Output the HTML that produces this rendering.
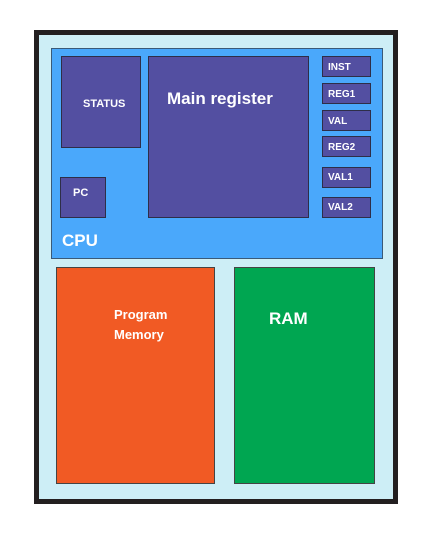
<!DOCTYPE html>
<html><head><style>
body{margin:0;width:433px;height:536px;background:#fff;position:relative;overflow:hidden;font-family:"Liberation Sans",sans-serif;font-weight:bold;color:#fff}
div{position:absolute;box-sizing:border-box}
.r{background:#534fa1;border:1px solid #2e2e48}
.s{font-size:10px}
</style></head><body>
<div style="left:34px;top:30px;width:364px;height:474px;background:#cdeef6;border:5px solid #231f20"></div>
<div style="left:51px;top:48px;width:332px;height:211px;background:#4aa8fb;border:1px solid #3a5a78"></div>
<div class="r" style="left:61px;top:56px;width:80px;height:92px"></div>
<div style="left:83px;top:98px;font-size:11px">STATUS</div>
<div class="r" style="left:148px;top:56px;width:161px;height:162px"></div>
<div style="left:167px;top:89px;font-size:17px">Main register</div>
<div class="r" style="left:60px;top:177px;width:46px;height:41px"></div>
<div style="left:73px;top:187px;font-size:11px">PC</div>
<div class="r" style="left:322px;top:56px;width:49px;height:21px"></div>
<div class="s" style="left:328px;top:62px">INST</div>
<div class="r" style="left:322px;top:83px;width:49px;height:21px"></div>
<div class="s" style="left:328px;top:89px">REG1</div>
<div class="r" style="left:322px;top:110px;width:49px;height:21px"></div>
<div class="s" style="left:328px;top:116px">VAL</div>
<div class="r" style="left:322px;top:136px;width:49px;height:21px"></div>
<div class="s" style="left:328px;top:142px">REG2</div>
<div class="r" style="left:322px;top:167px;width:49px;height:21px"></div>
<div class="s" style="left:328px;top:172px">VAL1</div>
<div class="r" style="left:322px;top:197px;width:49px;height:21px"></div>
<div class="s" style="left:328px;top:202px">VAL2</div>
<div style="left:62px;top:231px;font-size:17px">CPU</div>
<div style="left:56px;top:267px;width:159px;height:217px;background:#f15a24;border:1px solid #444"></div>
<div style="left:114px;top:305px;font-size:13px;line-height:20px">Program<br>Memory</div>
<div style="left:234px;top:267px;width:141px;height:217px;background:#00a651;border:1px solid #444"></div>
<div style="left:269px;top:309px;font-size:17px">RAM</div>
</body></html>
